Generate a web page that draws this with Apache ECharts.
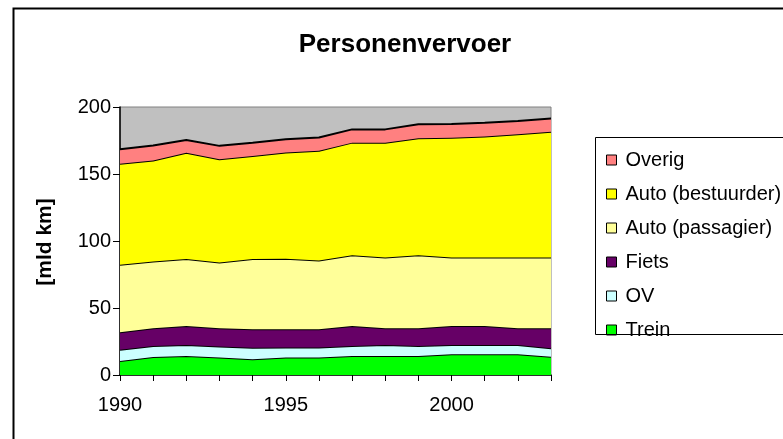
<!DOCTYPE html>
<html>
<head>
<meta charset="utf-8">
<script src="https://cdn.jsdelivr.net/npm/echarts@6/dist/echarts.min.js"></script>
<style>
html,body{margin:0;padding:0;background:#fff;}
#chart{width:783px;height:439px;}
</style>
</head>
<body>
<div id="chart"></div>
<script>
var years = ['1990','1991','1992','1993','1994','1995','1996','1997','1998','1999','2000','2001','2002','2003'];
var trein      = [10.5, 13.5, 14.2, 13.0, 11.8, 13.0, 13.0, 14.2, 14.2, 14.2, 15.4, 15.4, 15.4, 13.7];
var ov         = [8.3, 8.2, 8.2, 8.2, 8.6, 7.5, 7.5, 7.4, 8.2, 7.4, 7.0, 7.0, 7.0, 6.2];
var fiets      = [13.1, 13.2, 14.2, 13.7, 13.7, 13.7, 13.7, 15.0, 12.4, 13.2, 14.2, 14.2, 12.4, 14.9];
var passagier  = [50.3, 49.8, 50.0, 49.0, 52.5, 52.5, 51.2, 52.7, 52.8, 54.5, 51.0, 51.0, 52.8, 52.8];
var bestuurder = [75.4, 75.3, 79.3, 77.1, 76.8, 79.3, 81.9, 84.1, 85.8, 87.3, 89.5, 90.3, 92.0, 94.0];
var overig     = [10.9, 11.2, 9.5, 10.0, 10.0, 10.0, 9.9, 9.9, 9.9, 10.5, 10.2, 10.4, 10.0, 9.9];

var seriesNames = ['Trein','OV','Fiets','Auto (passagier)','Auto (bestuurder)','Overig'];
var seriesData = [trein, ov, fiets, passagier, bestuurder, overig];
var seriesColors = ['#00FF00','#CCFFFF','#660066','#FFFF99','#FFFF00','#FF8080'];

var FONT = 'Liberation Sans, Arial, sans-serif';
var chart = echarts.init(document.getElementById('chart'));

var series = seriesNames.map(function(n, i){
  return {
    name: n, type: 'line', stack: 'total', data: seriesData[i],
    symbol: 'none', smooth: false,
    lineStyle: {color: '#000', width: 2},
    itemStyle: {color: seriesColors[i], borderColor: '#000', borderWidth: 1},
    areaStyle: {color: seriesColors[i], opacity: 1},
    z: 2 + i
  };
});

chart.setOption({
  animation: false,
  title: {
    text: 'Personenvervoer', left: 400, top: 27, textAlign: 'center',
    textStyle: {fontFamily: FONT, fontSize: 26, fontWeight: 'bold', color: '#000'}
  },
  grid: {
    left: 120, top: 107, width: 431, height: 268, show: true,
    backgroundColor: '#C0C0C0', borderColor: '#808080', borderWidth: 1
  },
  legend: {
    orient: 'vertical', left: 601, top: 145, itemGap: 14,
    itemWidth: 10, itemHeight: 10, icon: 'rect',
    data: seriesNames.slice().reverse(),
    textStyle: {fontFamily: FONT, fontSize: 20, color: '#000', padding: [0,0,0,4]},
    itemStyle: {borderColor: '#000', borderWidth: 1}
  },
  xAxis: {
    type: 'category', data: years, boundaryGap: false,
    axisLine: {lineStyle: {color: '#000', width: 1.5}},
    axisTick: {show: true, interval: 0, length: 6, lineStyle: {color: '#000'}},
    axisLabel: {interval: 4, margin: 20, fontFamily: FONT, fontSize: 20, color: '#000'},
    splitLine: {show: false}
  },
  yAxis: {
    type: 'value', min: 0, max: 200, interval: 50,
    axisLine: {show: true, lineStyle: {color: '#000', width: 1.5}},
    axisTick: {show: true, length: 7, lineStyle: {color: '#000'}},
    axisLabel: {margin: 9, fontFamily: FONT, fontSize: 20, color: '#000'},
    splitLine: {show: false}
  },
  graphic: [
    {type: 'rect', left: 11, top: 6, shape: {x: 0, y: 0, width: 790, height: 450},
     style: {fill: 'none', stroke: '#000', lineWidth: 2}, z: 100, silent: true},
    {type: 'rect', shape: {x: 595.5, y: 137.5, width: 200, height: 197},
     style: {fill: 'none', stroke: '#000', lineWidth: 1}, z: 100, silent: true},
    {type: 'text', x: 45, y: 242, rotation: Math.PI / 2,
     style: {text: '[mld km]', fontFamily: FONT, fontSize: 21, fontWeight: 'bold', fill: '#000',
             textAlign: 'center', textVerticalAlign: 'middle'}, z: 100}
  ],
  series: series
});
</script>
</body>
</html>
